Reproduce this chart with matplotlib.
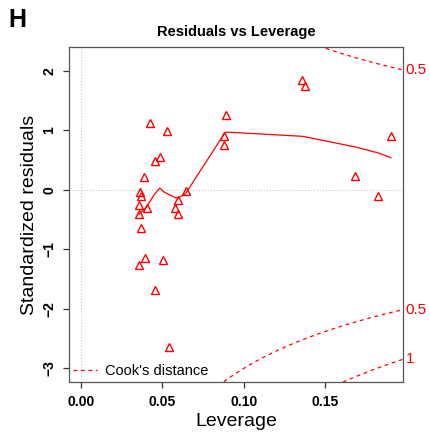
import numpy as np
import matplotlib
matplotlib.use("Agg")
import matplotlib.pyplot as plt
from matplotlib.transforms import blended_transform_factory

plt.rcParams["font.family"] = ["Liberation Sans", "DejaVu Sans"]

# leverage / standardized residuals
leverage = [0.0422, 0.0526, 0.0455, 0.0485, 0.0385, 0.0362, 0.0367, 0.0356,
            0.0403, 0.0356, 0.0367, 0.0596, 0.0579, 0.0596, 0.0643, 0.0891,
            0.0880, 0.0877, 0.0393, 0.0356, 0.0504, 0.0455, 0.0541, 0.1356,
            0.1378, 0.1904, 0.1685, 0.1826]
std_resid = [1.12, 0.99, 0.49, 0.55, 0.22, -0.03, -0.11, -0.25,
             -0.30, -0.41, -0.64, -0.17, -0.31, -0.40, -0.02, 1.25,
             0.91, 0.75, -1.14, -1.27, -1.18, -1.68, -2.65, 1.84,
             1.74, 0.90, 0.24, -0.11]

# smoother (red line)
smooth_lev = [0.0356, 0.0367, 0.0385, 0.0403, 0.0455, 0.0485, 0.0506, 0.0547,
              0.0579, 0.0596, 0.0643, 0.0877, 0.0891, 0.1356, 0.1378, 0.1685,
              0.1826, 0.1904]
smooth_res = [-0.41, -0.38, -0.34, -0.28, -0.06, 0.03, -0.03, -0.09,
              -0.13, -0.14, -0.06, 0.93, 0.97, 0.90, 0.89, 0.72,
              0.62, 0.54]

cook_levels = [0.5, 1.0]
n_params = 2

fig = plt.figure(figsize=(4.30, 4.34), dpi=100)
ax = fig.add_axes([0.1605, 0.1198, 0.7767, 0.7719])

xlim = (-0.0074, 0.1978)
ylim = (-3.23, 2.40)

ax.axhline(0, color="#c8c8c8", ls=":", lw=0.8, zorder=0)
ax.axvline(0, color="#c8c8c8", ls=":", lw=0.8, zorder=0)

ax.plot(leverage, std_resid, ls="none", marker="^", ms=6, mfc="none",
        mec="red", mew=1.0)
ax.plot(smooth_lev, smooth_res, color="red", lw=0.9)

# Cook's distance contours
hh = np.linspace(0.001, xlim[1], 200)
trans = blended_transform_factory(ax.transAxes, ax.transData)
for i, lev in enumerate(cook_levels):
    cl = np.sqrt(lev * n_params * (1 - hh) / hh)
    lbl = "Cook's distance" if i == 0 else None
    ax.plot(hh, cl, color="red", ls=(0, (3, 3)), lw=0.9, label=lbl)
    ax.plot(hh, -cl, color="red", ls=(0, (3, 3)), lw=0.9)
    edge = np.sqrt(lev * n_params * (1 - xlim[1]) / xlim[1])
    txt = "1" if lev == 1 else str(lev)
    for yv in (edge, -edge):
        if ylim[0] < yv < ylim[1]:
            ax.text(1.008, yv, txt, transform=trans, color="red",
                    fontsize=11, va="center", ha="left", clip_on=False)

ax.set_xlim(*xlim)
ax.set_ylim(*ylim)
ax.set_xticks([0.00, 0.05, 0.10, 0.15])
ax.set_xticklabels(["0.00", "0.05", "0.10", "0.15"], fontweight="bold")
ax.set_yticks([2, 1, 0, -1, -2, -3])
ax.set_yticklabels(["2", "1", "0", "\u22121", "\u22122", "\u22123"],
                   fontweight="bold", rotation=90, va="center")
ax.tick_params(length=4.3, width=0.9, labelsize=10, pad=5, color="#333")
for s in ax.spines.values():
    s.set_color("#555")
    s.set_linewidth(0.9)

ax.set_xlabel("Leverage", fontsize=14, labelpad=3)
ax.set_ylabel("Standardized residuals", fontsize=14, labelpad=3)
ax.set_title("Residuals vs Leverage", fontsize=10.5, fontweight="bold", pad=8)

ax.legend(loc="lower left", frameon=False, fontsize=10.5, handlelength=1.6,
          handletextpad=0.6, borderaxespad=0.1, borderpad=0.2)

fig.text(0.019, 0.955, "H", fontsize=18, fontweight="bold", ha="left", va="center")

fig.savefig("out.png", dpi=100)
